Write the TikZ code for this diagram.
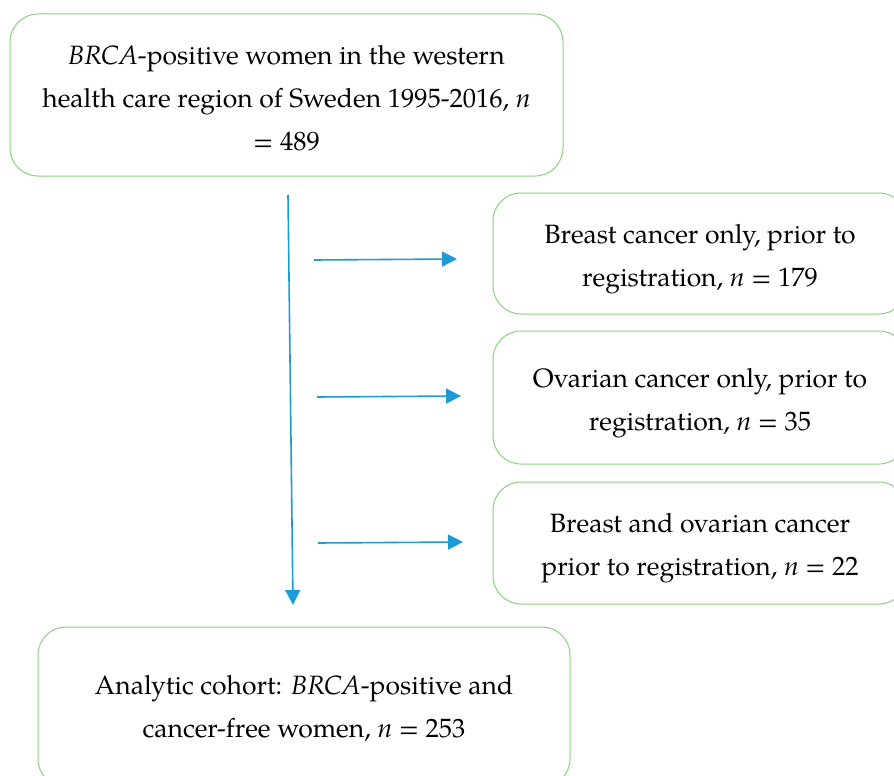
\documentclass[tikz,border=0pt]{standalone}
\usepackage{fontspec}
\setmainfont{TeX Gyre Pagella}
\usetikzlibrary{arrows.meta}
\definecolor{boxgreen}{RGB}{140,208,130}
\definecolor{arrowblue}{RGB}{30,155,215}
\newcommand\mystrut[1]{\rule{0pt}{#1pt}}
\tikzset{
  flowbox/.style={draw=boxgreen, line width=1pt, rounded corners=28pt, align=center,
    inner sep=0pt, font=\fontsize{26.5}{43}\selectfont},
  flowarrow/.style={draw=arrowblue, line width=1.6pt, -{Triangle[length=15pt,width=15pt]}}
}
\begin{document}
\begin{tikzpicture}[x=1pt,y=-1pt]
\clip (0,0) rectangle (894,776);
\useasboundingbox (0,0) rectangle (894,776);
\node[flowbox, minimum width=553pt, minimum height=162pt] (top) at (286.5,95)
  {\mystrut{25.5}\textit{BRCA}-positive women in the western\\health care region of Sweden 1995-2016, \textit{n}\\= 489};
\node[flowbox, minimum width=414pt, minimum height=121pt] (breast) at (700,253.5)
  {\mystrut{29.5}Breast cancer only, prior to\\registration, \textit{n} = 179};
\node[flowbox, minimum width=414pt, minimum height=133pt] (ovarian) at (700,397.5)
  {\mystrut{29.5}Ovarian cancer only, prior to\\registration, \textit{n} = 35};
\node[flowbox, minimum width=414pt, minimum height=122pt] (both) at (700,543)
  {\mystrut{28.5}Breast and ovarian cancer\\prior to registration, \textit{n} = 22};
\node[flowbox, minimum width=532pt, minimum height=160pt] (cohort) at (304,707)
  {\mystrut{22.5}Analytic cohort: \textit{BRCA}-positive and\\cancer-free women, \textit{n} = 253};
\coordinate (vstart) at (288,195);
\coordinate (vend) at (293,605);
\coordinate (a1s) at (314,260);
\coordinate (a1e) at (457,259);
\coordinate (a2s) at (317,397);
\coordinate (a2e) at (461,396);
\coordinate (a3s) at (318,543);
\coordinate (a3e) at (463,542);
\draw[flowarrow] (vstart) -- (vend);
\draw[flowarrow] (a1s) -- (a1e);
\draw[flowarrow] (a2s) -- (a2e);
\draw[flowarrow] (a3s) -- (a3e);
\end{tikzpicture}
\end{document}
